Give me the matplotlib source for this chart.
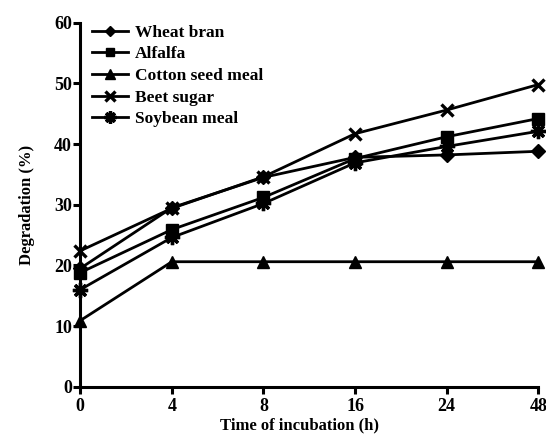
import matplotlib
matplotlib.use("Agg")
import matplotlib.pyplot as plt

times = ["0", "4", "8", "16", "24", "48"]
wheat_bran = [19.5, 29.5, 34.5, 37.8, 38.2, 38.8]
alfalfa = [18.8, 25.9, 31.2, 37.6, 41.2, 44.2]
cotton_seed_meal = [10.9, 20.6, 20.6, 20.6, 20.6, 20.6]
beet_sugar = [22.4, 29.4, 34.6, 41.7, 45.6, 49.8]
soybean_meal = [16.0, 24.6, 30.2, 36.9, 39.6, 42.1]

plt.rcParams['font.family'] = ['Liberation Serif', 'DejaVu Serif']

fig = plt.figure(figsize=(5.46, 4.44), dpi=100)
ax = fig.add_axes([0.147, 0.129, 0.839, 0.82])

x = list(range(len(times)))
series = [
    ("Wheat bran", wheat_bran, dict(marker='D', markersize=7, markeredgewidth=1)),
    ("Alfalfa", alfalfa, dict(marker='s', markersize=8, markeredgewidth=1)),
    ("Cotton seed meal", cotton_seed_meal, dict(marker='^', markersize=9, markeredgewidth=1)),
    ("Beet sugar", beet_sugar, dict(marker='x', markersize=9, markeredgewidth=2.4)),
    ("Soybean meal", soybean_meal, dict(marker=(8, 2, 0), markersize=11, markeredgewidth=2.4)),
]
for name, vals, mk in series:
    ax.plot(x, vals, color='black', lw=2, label=name, clip_on=False,
            markerfacecolor='black', markeredgecolor='black', **mk)

ax.set_xlim(0, len(times) - 1)
ax.set_ylim(0, 60)
ax.set_xticks(x)
ax.set_xticklabels(times)
ax.set_yticks(range(0, 61, 10))
for s in ['top', 'right']:
    ax.spines[s].set_visible(False)
for s in ['left', 'bottom']:
    ax.spines[s].set_linewidth(2.2)
ax.tick_params(axis='both', direction='out', length=5, width=2.2, labelsize=13)
ax.tick_params(axis='x', pad=3)
ax.tick_params(axis='y', pad=1)
for lab in ax.get_xticklabels() + ax.get_yticklabels():
    lab.set_fontweight('bold')

ax.set_xlabel("Time of incubation (h)", fontsize=12, fontweight='bold', labelpad=3)
ax.xaxis.set_label_coords(0.478, -0.085)
ax.set_ylabel("Degradation (%)", fontsize=12, fontweight='bold', labelpad=14)

leg = ax.legend(loc='upper left', bbox_to_anchor=(0.011, 1.014), frameon=False,
                prop=dict(size=12.5, weight='bold'), handlelength=2.07, handletextpad=0.4,
                labelspacing=0.32, borderaxespad=0.0, markerscale=0.8)

fig.savefig("out.png", dpi=100)
